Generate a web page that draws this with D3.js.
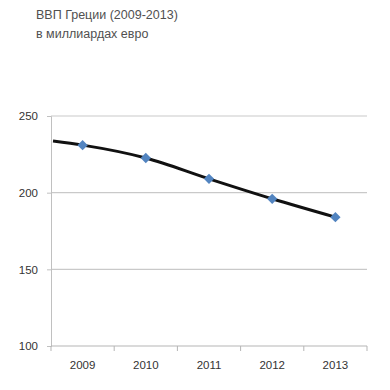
<!DOCTYPE html>
<html>
<head>
<meta charset="utf-8">
<script src="https://cdn.jsdelivr.net/npm/d3@7"></script>
<style>
body { margin:0; background:#fff; }
svg text { font-family: "Liberation Sans", Arial, sans-serif; }
</style>
</head>
<body>
<svg id="chart"></svg>
<script>
// data
var years = ["2009", "2010", "2011", "2012", "2013"]
var gdp = [231, 222.6, 209, 196, 184]
var lineStart = 233.7   // black line starts a bit left of 2009
var yTicks = [100, 150, 200, 250]
var titleLines = ["ВВП Греции (2009-2013)", "в миллиардах евро"]

var screen = {width:390, height:390}
var margins = {top:116, bottom:44, left:51, right:23}
var graph = {
    width: screen.width - margins.left - margins.right,
    height: screen.height - margins.top - margins.bottom
}

var svg = d3.select("#chart")
    .attr("width", screen.width)
    .attr("height", screen.height)

var xScale = d3.scaleBand()
    .domain(years)
    .range([0, graph.width])
var yScale = d3.scaleLinear()
    .domain([100, 250])
    .range([graph.height, 0])

// title
svg.append("g")
    .selectAll("text")
    .data(titleLines)
    .enter()
    .append("text")
    .attr("x", 36)
    .attr("y", function(d, i){ return 19 + i*19 })
    .attr("fill", "#505050")
    .attr("font-size", "12.5px")
    .text(function(d){ return d })

var g = svg.append("g")
    .attr("transform", "translate(" + margins.left + "," + margins.top + ")")

// gridlines
g.append("g")
    .selectAll("line")
    .data(yTicks.filter(function(t){ return t > 100 }))
    .enter()
    .append("line")
    .attr("x1", 0)
    .attr("x2", graph.width)
    .attr("y1", function(d){ return yScale(d) })
    .attr("y2", function(d){ return yScale(d) })
    .attr("stroke", "#c9c9c9")
    .attr("stroke-width", 1.2)

// y axis
var yAxis = d3.axisLeft(yScale).tickValues(yTicks).tickSize(4).tickPadding(9)
var ya = g.append("g").call(yAxis)
ya.select(".domain").attr("stroke", "#c0c0c0")
ya.selectAll(".tick line").attr("stroke", "#c0c0c0")
ya.selectAll("text").attr("fill", "#333").attr("font-size", "11.5px")
    .attr("font-family", "\"Liberation Sans\", Arial, sans-serif")

// x axis, ticks on category boundaries
var xa = g.append("g").attr("transform", "translate(0," + graph.height + ")")
xa.append("line")
    .attr("x1", 0).attr("x2", graph.width)
    .attr("stroke", "#b5b5b5").attr("stroke-width", 1.2)
var edges = years.map(function(y){ return xScale(y) }).concat([graph.width])
xa.selectAll(".edge")
    .data(edges)
    .enter()
    .append("line")
    .attr("x1", function(d){ return d }).attr("x2", function(d){ return d })
    .attr("y1", 0).attr("y2", 5)
    .attr("stroke", "#b5b5b5")
xa.selectAll(".lab")
    .data(years)
    .enter()
    .append("text")
    .attr("x", function(d){ return xScale(d) + xScale.bandwidth()/2 })
    .attr("y", 23)
    .attr("text-anchor", "middle")
    .attr("fill", "#333")
    .attr("font-size", "11.5px")
    .text(function(d){ return d })

// line: starts near left edge, then passes through the points
var pts = [[2, lineStart]].concat(years.map(function(y, i){
    return [xScale(y) + xScale.bandwidth()/2, gdp[i]]
}))
var lineGenerator = d3.line()
    .x(function(d){ return d[0] })
    .y(function(d){ return yScale(d[1]) })
    .curve(d3.curveMonotoneX)

g.append("path")
    .datum(pts)
    .attr("d", lineGenerator)
    .attr("fill", "none")
    .attr("stroke", "#111")
    .attr("stroke-width", 3)

// diamond markers
g.selectAll(".pt")
    .data(gdp)
    .enter()
    .append("path")
    .attr("d", d3.symbol().type(d3.symbolDiamond2).size(68))
    .attr("transform", function(d, i){
        return "translate(" + (xScale(years[i]) + xScale.bandwidth()/2) + "," + yScale(d) + ")"
    })
    .attr("fill", "#5284c0")
</script>
</body>
</html>
